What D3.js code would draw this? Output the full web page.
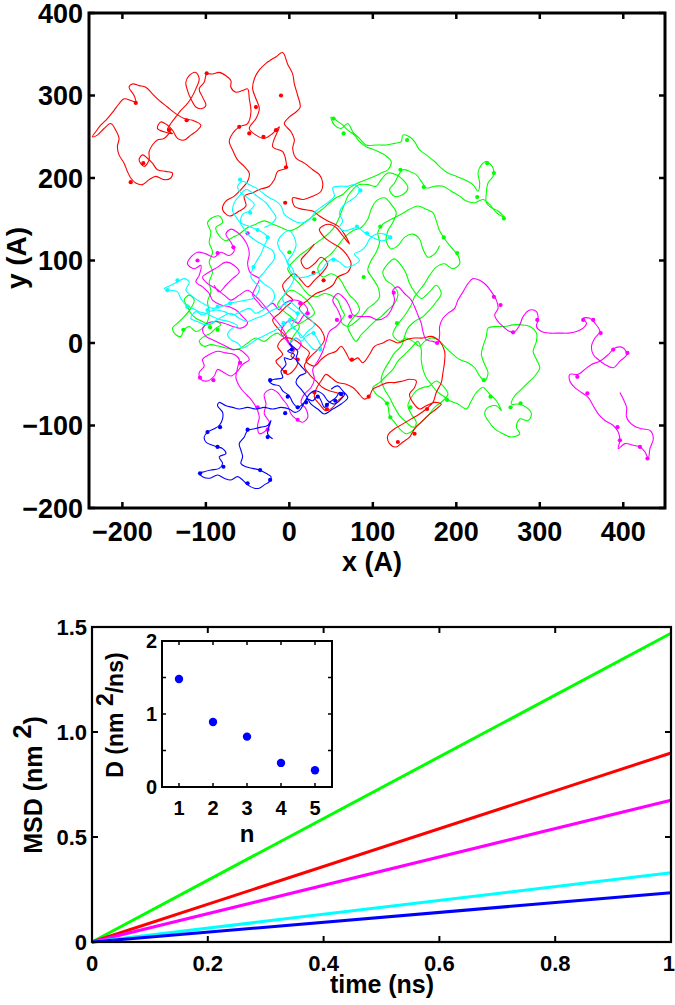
<!DOCTYPE html>
<html><head><meta charset="utf-8">
<script src="https://cdn.jsdelivr.net/npm/d3@7"></script>
<style>
body{margin:0;background:#fff}
text{font-family:"Liberation Sans",Arial,Helvetica,sans-serif;font-weight:bold;fill:#000}
</style>
</head><body>
<svg id="c" width="675" height="1005"></svg>
<script>
// ---------------- DATA ----------------
// trajectory colours (plot order)
const trackColors = ["#00ff00", "#ff0000", "#ff00ff", "#00ffff", "#0000ff"];

// x, y in Angstrom
const greenTrack = [[0,0],[6,10],[12,20],[4,30],[-6,38],[-14,46],[-8,56],[2,64],[14,58],[24,48],[30,36],[20,28],[10,22],[0,16],[-8,8],[-14,12],[-22,8],[-30,2],[-40,6],[-50,0],[-58,-6],[-66,-8],[-76,-6],[-84,-4],[-94,-2],[-102,-4],[-108,2],[-102,8],[-94,12],[-88,18],[-82,22],[-88,26],[-96,22],[-104,26],[-112,30],[-118,36],[-122,44],[-126,52],[-120,58],[-114,52],[-118,42],[-126,32],[-134,24],[-140,18],[-136,10],[-130,8],[-126,16],[-120,20],[-112,14],[-104,18],[-98,26],[-96,38],[-98,50],[-94,62],[-96,74],[-92,86],[-96,98],[-92,110],[-96,122],[-94,134],[-98,146],[-92,152],[-84,154],[-80,146],[-88,140],[-84,130],[-76,124],[-68,128],[-60,132],[-50,140],[-40,144],[-30,148],[-20,144],[-10,140],[0,136],[10,140],[18,146],[26,152],[34,158],[42,164],[48,170],[56,176],[64,180],[72,188],[82,194],[92,198],[102,202],[110,206],[118,210],[122,220],[114,228],[102,234],[92,238],[84,244],[78,252],[70,258],[64,264],[56,270],[50,274],[54,264],[62,260],[70,266],[76,256],[84,248],[92,240],[104,240],[116,240],[126,242],[134,244],[136,252],[144,250],[150,244],[156,234],[164,228],[174,220],[182,212],[190,206],[200,202],[210,198],[220,192],[226,184],[228,194],[226,206],[230,216],[236,220],[244,212],[244,202],[238,194],[236,182],[236,170],[242,164],[250,160],[258,152],[248,158],[240,168],[232,174],[222,170],[212,172],[204,178],[194,184],[184,190],[174,190],[164,188],[158,196],[152,204],[144,208],[136,210],[130,202],[126,194],[120,186],[126,178],[136,180],[142,188],[136,198],[128,204],[118,206],[110,198],[104,190],[94,192],[84,192],[76,186],[70,178],[66,168],[62,158],[58,148],[52,138],[44,130],[36,124],[28,118],[20,112],[12,106],[4,98],[-2,90],[4,80],[12,72],[18,64],[24,58],[32,56],[42,60],[50,58],[58,52],[62,42],[66,34],[62,26],[70,20],[80,26],[88,34],[94,42],[102,48],[108,56],[106,68],[100,78],[94,88],[98,100],[104,110],[108,122],[106,134],[112,144],[122,150],[134,156],[144,162],[154,166],[164,162],[172,158],[176,148],[180,136],[186,126],[194,116],[202,106],[204,96],[196,90],[186,96],[176,92],[168,82],[162,72],[156,64],[150,56],[146,46],[140,36],[134,28],[128,20],[124,10],[132,2],[140,6],[148,2],[156,-4],[162,2],[170,6],[178,4],[186,-4],[194,-12],[204,-20],[214,-24],[222,-30],[228,-40],[234,-46],[238,-36],[234,-26],[230,-14],[232,-4],[236,8],[238,18],[248,20],[258,20],[268,22],[278,22],[288,20],[296,12],[296,2],[292,-10],[296,-20],[300,-30],[294,-40],[286,-48],[278,-56],[270,-64],[266,-74],[274,-74],[284,-78],[290,-86],[286,-94],[276,-92],[272,-102],[276,-110],[266,-114],[256,-110],[246,-104],[238,-94],[234,-86],[238,-78],[248,-76],[254,-82],[248,-70],[240,-62],[232,-54],[224,-60],[218,-70],[212,-80],[202,-74],[192,-70],[184,-64],[176,-58],[170,-50],[164,-42],[160,-32],[158,-20],[158,-8],[154,2],[146,-6],[138,-14],[130,-22],[124,-32],[116,-40],[108,-48],[100,-54],[104,-62],[112,-68],[118,-76],[120,-88],[126,-96],[132,-104],[140,-110],[148,-106],[152,-96],[146,-86],[142,-76],[146,-66],[152,-58],[160,-54],[168,-52],[176,-46],[184,-52],[190,-62],[184,-70],[174,-78],[166,-88],[158,-96],[148,-102],[140,-96],[132,-88],[126,-78],[120,-66],[114,-56],[110,-44],[114,-32],[120,-22],[126,-12],[134,-4],[138,8],[142,18],[150,26],[160,32],[168,40],[176,50],[182,60],[176,70],[168,62],[158,54],[150,62],[144,72],[140,84],[134,94],[126,102],[118,96],[112,86],[116,76],[124,70],[130,60],[126,48],[118,40],[110,32],[102,26],[94,18],[86,10],[80,2],[74,10],[70,20],[76,30],[84,40],[80,50],[72,58],[66,68],[60,78],[50,84],[40,80],[34,90],[40,100],[50,108],[58,118],[66,128],[76,136],[86,140],[94,150],[98,162],[104,172],[114,176],[122,168],[128,158],[124,146],[118,136],[116,124],[122,114],[130,118],[138,128],[148,132],[156,126],[160,114],[166,104],[174,108],[180,118]];

const redTrack = [[30,120],[22,110],[14,100],[20,90],[30,96],[38,104],[46,96],[40,86],[30,76],[22,68],[14,76],[6,84],[-2,78],[-8,70],[-4,60],[4,52],[-4,44],[-12,36],[-20,28],[-14,18],[-6,10],[0,0],[6,-8],[2,-16],[10,-22],[6,-32],[-2,-38],[-10,-30],[-16,-22],[-8,-14],[-14,-4],[-6,6],[6,4],[16,-4],[24,-12],[20,-22],[30,-28],[38,-20],[46,-14],[56,-10],[62,-4],[68,-12],[74,-22],[82,-18],[88,-24],[96,-14],[102,-4],[112,0],[120,4],[130,0],[140,4],[150,6],[160,6],[170,8],[180,2],[186,-10],[186,-22],[184,-36],[182,-48],[176,-60],[172,-72],[164,-80],[156,-86],[146,-92],[136,-98],[126,-104],[118,-112],[120,-122],[128,-126],[136,-120],[144,-114],[150,-104],[158,-96],[166,-88],[176,-80],[182,-74],[174,-72],[164,-76],[156,-80],[148,-72],[144,-62],[150,-54],[152,-46],[144,-44],[136,-46],[126,-48],[118,-48],[108,-52],[100,-56],[96,-64],[90,-68],[82,-60],[76,-54],[68,-50],[58,-48],[50,-42],[44,-38],[38,-46],[32,-56],[30,-66],[36,-74],[44,-82],[52,-78],[58,-70],[64,-64],[56,-60],[48,-58],[40,-54],[32,-46],[24,-38],[18,-28],[24,-18],[34,-8],[42,4],[38,16],[30,24],[20,32],[12,42],[22,52],[32,60],[42,64],[52,70],[58,80],[70,86],[74,96],[68,108],[60,116],[50,122],[42,128],[36,138],[46,144],[56,140],[64,130],[72,120],[66,132],[58,142],[46,148],[36,154],[28,160],[16,162],[6,166],[4,176],[16,174],[28,178],[38,184],[40,194],[36,204],[28,210],[18,218],[8,224],[4,236],[6,246],[2,256],[-6,266],[0,274],[8,280],[13,286],[10,300],[6,314],[4,326],[-2,338],[-8,352],[-16,347],[-28,339],[-36,331],[-42,320],[-44,308],[-40,296],[-36,284],[-40,272],[-48,260],[-40,252],[-30,248],[-20,254],[-12,262],[-20,238],[-8,232],[-4,220],[-4,212],[-14,208],[-18,198],[-24,190],[-36,186],[-44,182],[-54,178],[-52,166],[-60,160],[-72,154],[-80,162],[-76,172],[-66,178],[-58,186],[-50,196],[-48,206],[-54,214],[-62,222],[-68,234],[-72,244],[-68,254],[-60,262],[-50,266],[-46,280],[-48,296],[-50,308],[-56,306],[-64,304],[-70,310],[-70,318],[-76,324],[-84,328],[-92,326],[-99,326],[-102,316],[-108,308],[-104,298],[-100,288],[-106,284],[-112,286],[-118,296],[-122,306],[-124,316],[-120,324],[-112,328],[-108,320],[-112,308],[-118,296],[-124,288],[-130,282],[-136,274],[-142,266],[-146,258],[-140,254],[-150,256],[-158,260],[-154,268],[-146,264],[-140,258],[-134,248],[-126,246],[-118,252],[-110,258],[-106,264],[-116,270],[-126,272],[-136,278],[-146,286],[-156,294],[-164,302],[-172,310],[-180,312],[-188,314],[-192,310],[-186,300],[-184,292],[-190,294],[-198,296],[-204,290],[-210,282],[-218,272],[-226,264],[-232,256],[-236,250],[-230,252],[-222,260],[-214,266],[-208,258],[-204,248],[-206,238],[-204,228],[-198,218],[-194,208],[-190,200],[-184,194],[-176,192],[-168,198],[-160,202],[-150,198],[-142,200],[-140,206],[-148,208],[-158,210],[-164,218],[-170,224],[-176,228],[-180,222],[-174,214],[-168,222],[-168,232],[-164,240],[-158,246],[-150,248],[-144,254]];

const magentaTrack = [[-90,70],[-84,62],[-76,70],[-68,78],[-60,86],[-66,94],[-76,98],[-86,92],[-96,86],[-104,80],[-98,72],[-88,66],[-78,58],[-70,52],[-60,58],[-50,64],[-42,58],[-34,50],[-26,40],[-18,30],[-10,20],[-4,10],[0,0],[8,6],[14,0],[10,-8],[2,-4],[-4,4],[-10,12],[-6,22],[2,28],[10,24],[16,32],[22,40],[14,50],[4,52],[-8,46],[-12,40],[-20,48],[-30,42],[-38,50],[-44,58],[-40,68],[-36,78],[-46,84],[-50,96],[-48,108],[-50,118],[-56,128],[-62,134],[-70,138],[-76,132],[-70,122],[-66,112],[-72,106],[-82,110],[-90,104],[-100,108],[-110,110],[-118,104],[-122,96],[-114,90],[-106,94],[-108,82],[-112,74],[-104,68],[-96,60],[-92,52],[-82,46],[-72,44],[-64,40],[-56,32],[-50,24],[-58,18],[-68,20],[-78,24],[-88,26],[-98,24],[-104,16],[-100,8],[-92,4],[-84,0],[-76,-4],[-68,-8],[-60,-8],[-52,-14],[-48,-20],[-56,-26],[-62,-34],[-70,-40],[-78,-36],[-86,-32],[-90,-40],[-98,-46],[-106,-44],[-108,-36],[-102,-28],[-104,-20],[-96,-14],[-86,-10],[-76,-12],[-66,-14],[-60,-20],[-62,-30],[-64,-42],[-60,-52],[-54,-60],[-48,-66],[-42,-74],[-38,-82],[-36,-90],[-38,-100],[-36,-110],[-28,-106],[-24,-96],[-30,-86],[-28,-74],[-30,-62],[-22,-56],[-14,-60],[-8,-68],[-2,-76],[2,-86],[8,-92],[16,-96],[22,-90],[20,-80],[14,-72],[18,-62],[26,-54],[30,-44],[28,-32],[34,-22],[40,-10],[44,2],[48,14],[56,20],[62,28],[58,40],[52,52],[58,60],[66,54],[72,44],[76,34],[86,32],[96,32],[106,28],[116,32],[122,40],[126,52],[124,64],[130,68],[138,60],[146,52],[150,44],[154,34],[158,24],[160,14],[164,4],[172,2],[178,0],[180,10],[180,20],[184,30],[190,36],[198,42],[202,52],[208,62],[214,72],[220,78],[228,76],[236,70],[242,62],[248,52],[250,42],[246,34],[250,26],[256,20],[264,14],[270,14],[276,22],[280,32],[288,40],[296,38],[298,28],[296,20],[302,14],[312,12],[324,12],[334,12],[344,14],[352,18],[356,24],[352,30],[360,30],[366,24],[372,14],[366,6],[362,-4],[364,-14],[370,-20],[378,-26],[388,-30],[396,-22],[404,-14],[400,-6],[390,-6],[382,-14],[372,-22],[362,-26],[354,-32],[346,-38],[336,-38],[336,-46],[342,-54],[350,-60],[358,-66],[364,-76],[370,-86],[378,-94],[388,-100],[394,-108],[396,-118],[394,-128],[402,-122],[412,-124],[420,-126],[426,-132],[430,-140],[432,-128],[436,-116],[432,-106],[422,-104],[412,-100],[404,-90],[404,-78],[400,-68],[396,-60]];

const cyanTrack = [[0,0],[8,6],[14,2],[20,8],[28,12],[34,4],[38,-6],[30,-8],[22,0],[14,10],[6,18],[-2,26],[-8,22],[-16,16],[-24,12],[-32,8],[-40,4],[-48,-2],[-56,-6],[-62,0],[-70,4],[-74,10],[-68,18],[-62,20],[-72,26],[-82,28],[-92,32],[-100,36],[-108,38],[-116,42],[-124,46],[-130,54],[-134,62],[-142,64],[-150,66],[-142,70],[-134,74],[-126,78],[-120,74],[-124,64],[-118,58],[-110,52],[-100,46],[-92,42],[-82,44],[-72,48],[-62,50],[-52,52],[-44,54],[-38,60],[-36,68],[-42,74],[-46,80],[-44,90],[-40,98],[-34,108],[-30,118],[-26,128],[-32,134],[-40,138],[-50,142],[-58,146],[-56,156],[-48,160],[-42,168],[-50,176],[-58,182],[-62,190],[-56,196],[-48,192],[-40,188],[-32,182],[-24,176],[-16,172],[-10,166],[-6,156],[2,150],[10,146],[18,146],[26,152],[32,160],[40,166],[48,172],[54,178],[52,188],[60,190],[70,190],[78,192],[84,186],[80,178],[72,172],[64,166],[60,156],[64,148],[60,140],[66,136],[74,138],[82,140],[90,134],[96,130],[104,126],[112,124],[120,128],[114,132],[104,132],[96,126],[92,118],[86,112],[78,108],[84,100],[76,94],[68,92],[60,98],[52,102],[44,96],[38,88],[30,84],[20,80],[10,80],[2,86],[-2,96],[-6,106],[-12,114],[-14,122],[-8,132],[0,136],[6,128],[8,118],[4,108],[-2,98],[4,90],[6,80],[2,70],[-4,62],[-8,54],[-4,46],[4,40],[10,34],[6,26],[2,20],[10,14],[14,6],[22,14],[30,22],[24,30],[16,36],[8,44],[0,50],[-10,44],[-20,40],[-30,34],[-40,30],[-50,26],[-60,30],[-70,36],[-80,32],[-90,26],[-100,22],[-110,26],[-118,30],[-112,38],[-104,34],[-96,38],[-88,40],[-78,38],[-68,34],[-58,38],[-48,42],[-40,36],[-32,40],[-24,46],[-18,54],[-20,64],[-28,70],[-36,78],[-30,86],[-24,94],[-18,102],[-20,112],[-30,118],[-40,124],[-48,130],[-54,138],[-62,150],[-68,160],[-66,170],[-60,178],[-52,186],[-44,182],[-36,176],[-28,170],[-22,162],[-16,152],[-22,144],[-30,140]];

const blueTrack = [[50,-56],[58,-52],[64,-58],[70,-66],[62,-74],[52,-80],[42,-86],[34,-80],[26,-74],[20,-64],[14,-56],[8,-48],[12,-40],[20,-36],[14,-28],[8,-20],[10,-10],[4,-4],[0,0],[3,-6],[-2,-10],[6,-14],[2,-20],[-6,-18],[-4,-26],[-10,-34],[-8,-42],[-18,-44],[-24,-46],[-20,-50],[-12,-52],[-8,-58],[0,-64],[4,-72],[10,-78],[16,-74],[22,-68],[28,-70],[34,-64],[38,-70],[42,-78],[48,-72],[56,-66],[60,-60],[66,-62],[62,-68],[54,-74],[46,-70],[40,-62],[30,-58],[24,-62],[18,-72],[12,-82],[6,-84],[0,-80],[-10,-78],[-20,-80],[-30,-78],[-40,-80],[-50,-78],[-60,-80],[-68,-78],[-76,-76],[-84,-72],[-86,-76],[-80,-84],[-80,-92],[-84,-100],[-90,-104],[-98,-108],[-102,-114],[-100,-120],[-92,-124],[-86,-126],[-80,-128],[-76,-134],[-84,-138],[-80,-146],[-84,-152],[-94,-154],[-102,-156],[-108,-158],[-104,-162],[-96,-164],[-86,-160],[-78,-164],[-70,-166],[-62,-162],[-56,-166],[-50,-172],[-42,-176],[-36,-176],[-30,-172],[-24,-168],[-22,-162],[-28,-158],[-36,-154],[-44,-152],[-52,-150],[-58,-146],[-56,-138],[-58,-130],[-60,-122],[-54,-114],[-50,-106],[-42,-104],[-34,-102],[-26,-100],[-22,-94],[-26,-110],[-20,-116]];

// dense knots along each trajectory
const greenKnots = [[53,272],[65,254],[141,246],[133,210],[161,189],[225,177],[245,206],[237,218],[257,151],[-86,16],[-95,19],[-127,16],[-122,44],[89,80],[129,24],[233,-45],[277,-73],[265,-78],[241,-65],[145,-78],[117,-73],[121,-90],[189,-69],[109,141],[185,128],[201,109],[0,110],[30,150]];
const redKnots = [[-184,291],[-144,258],[-175,218],[-190,195],[-123,270],[-99,327],[-40,286],[-31,250],[-48,254],[-10,300],[-4,213],[-16,258],[-60,262],[-5,170],[41,76],[29,85],[45,-80],[30,-60],[150,-110],[130,-120],[165,-80],[75,-20],[95,-65],[-5,-35],[10,-20]];
const magentaKnots = [[-110,100],[-86,109],[-67,116],[-50,133],[-107,-42],[-91,-45],[-59,-24],[-26,-105],[-38,-78],[10,-93],[22,36],[13,48],[57,28],[73,32],[125,61],[177,0],[268,13],[297,28],[352,28],[364,28],[373,12],[345,-41],[357,-61],[393,-102],[429,-140],[420,-126],[396,-118],[405,-12],[388,-8],[253,46],[245,56]];
const cyanKnots = [[-146,64],[-134,76],[-122,44],[-98,40],[-47,158],[-26,128],[-59,198],[-38,137],[1,28],[10,36],[-7,24],[29,12],[37,-8],[93,133],[121,128],[81,141],[53,101],[85,185],[-86,44],[-71,48],[-43,92]];
const blueKnots = [[3,-8],[-23,-45],[10,-78],[34,-65],[55,-70],[62,-62],[-2,-65],[-83,-102],[-98,-108],[-107,-158],[-86,-126],[-79,-150],[-50,-170],[-35,-154],[-26,-114],[-50,-105],[-23,-166],[-5,-85],[20,-72],[45,-75]];

// top axes ticks
const topXTicks = [-200, -100, 0, 100, 200, 300, 400];
const topYTicks = [-200, -100, 0, 100, 200, 300, 400];

// MSD panel
const msdTime = [0, 1];
const msdColors = ["#00ff00", "#ff0000", "#ff00ff", "#00ffff", "#0000ff"];
const msdEnd = [1.47, 0.90, 0.675, 0.33, 0.235];
const msdXTicks = [0, 0.2, 0.4, 0.6, 0.8, 1];
const msdXLabels = ["0", "0.2", "0.4", "0.6", "0.8", "1"];
const msdYTicks = [0, 0.5, 1.0, 1.5];
const msdYLabels = ["0", "0.5", "1.0", "1.5"];

// inset D vs n
const insetN = [1, 2, 3, 4, 5];
const insetD = [1.48, 0.89, 0.69, 0.33, 0.23];
const insetYTicks = [0, 0.5, 1, 1.5, 2];
const insetYLabels = [0, 1, 2];

// ---------------- DRAW ----------------
const svg = d3.select("#c");
svg.append("rect").attr("width", 675).attr("height", 1005).attr("fill", "#fff");

function frameAxes(g, x, y, xt, yt, opts) {
  const [x0, x1] = x.range(), [y0, y1] = y.range();
  const tl = opts.tick;
  const ax = g.append("g").attr("stroke", "#000").attr("stroke-width", opts.tw);
  xt.forEach(v => {
    ax.append("line").attr("x1", x(v)).attr("x2", x(v)).attr("y1", y0).attr("y2", y0 - tl);
    ax.append("line").attr("x1", x(v)).attr("x2", x(v)).attr("y1", y1).attr("y2", y1 + tl);
  });
  yt.forEach(v => {
    ax.append("line").attr("x1", x0).attr("x2", x0 + tl).attr("y1", y(v)).attr("y2", y(v));
    ax.append("line").attr("x1", x1).attr("x2", x1 - tl).attr("y1", y(v)).attr("y2", y(v));
  });
  g.append("rect").attr("x", x0).attr("y", y1).attr("width", x1 - x0).attr("height", y0 - y1)
    .attr("fill", "none").attr("stroke", "#000").attr("stroke-width", opts.sw);
}

// ---- top panel ----
const xT = d3.scaleLinear().domain([-240, 450]).range([89, 665]);
const yT = d3.scaleLinear().domain([-200, 400]).range([508, 13]);
const topG = svg.append("g");
svg.append("clipPath").attr("id", "clipTop").append("rect")
  .attr("x", 89).attr("y", 13).attr("width", 576).attr("height", 495);

const tracks = [greenTrack, redTrack, magentaTrack, cyanTrack, blueTrack];
const knots = [greenKnots, redKnots, magentaKnots, cyanKnots, blueKnots];
const trackLine = d3.line().x(d => xT(d[0])).y(d => yT(d[1])).curve(d3.curveCatmullRom.alpha(0.5));
const plotG = topG.append("g").attr("clip-path", "url(#clipTop)");
tracks.forEach((t, i) => {
  plotG.append("path").attr("d", trackLine(t)).attr("fill", "none")
    .attr("stroke", trackColors[i]).attr("stroke-width", 1.1).attr("stroke-linejoin", "round");
  plotG.append("g").selectAll(null).data(knots[i]).enter().append("circle")
    .attr("cx", d => xT(d[0])).attr("cy", d => yT(d[1])).attr("r", 2.1)
    .attr("fill", trackColors[i]);
});

frameAxes(topG, xT, yT, topXTicks, topYTicks, {tick: 6, tw: 2.5, sw: 3});
const fmtMinus = v => (v < 0 ? "\u2212" + Math.abs(v) : String(v));
topG.selectAll(null).data(topXTicks).enter().append("text")
  .attr("x", d => xT(d)).attr("y", 541).attr("text-anchor", "middle")
  .attr("font-size", 27).text(fmtMinus);
topG.selectAll(null).data(topYTicks).enter().append("text")
  .attr("x", 83).attr("y", d => yT(d) + 9.5).attr("text-anchor", "end")
  .attr("font-size", 27).text(fmtMinus);
topG.append("text").attr("x", 372).attr("y", 571).attr("text-anchor", "middle")
  .attr("font-size", 27).text("x (A)");
topG.append("text").attr("transform", "translate(26,258) rotate(-90)").attr("text-anchor", "middle")
  .attr("font-size", 28).text("y (A)");

// ---- bottom panel ----
const xB = d3.scaleLinear().domain([0, 1]).range([92, 671]);
const yB = d3.scaleLinear().domain([0, 1.5]).range([942, 627]);
const bot = svg.append("g");
const mline = d3.line().x(d => xB(d[0])).y(d => yB(d[1]));
msdEnd.forEach((v, i) => {
  const pts = msdTime.map(t => [t, t * v]);
  bot.append("path").attr("d", mline(pts)).attr("fill", "none")
    .attr("stroke", msdColors[i]).attr("stroke-width", 3);
});
frameAxes(bot, xB, yB, msdXTicks, msdYTicks, {tick: 6, tw: 2, sw: 2.2});
bot.selectAll(null).data(msdXTicks).enter().append("text")
  .attr("x", (d, i) => i === msdXTicks.length - 1 ? 675 : xB(d)).attr("y", 971)
  .attr("text-anchor", (d, i) => i === msdXTicks.length - 1 ? "end" : "middle")
  .attr("font-size", 22).text((d, i) => msdXLabels[i]);
bot.selectAll(null).data(msdYTicks).enter().append("text")
  .attr("x", 87).attr("y", d => yB(d) + 8).attr("text-anchor", "end")
  .attr("font-size", 22).text((d, i) => msdYLabels[i]);
bot.append("text").attr("x", 382).attr("y", 993).attr("text-anchor", "middle")
  .attr("font-size", 25).text("time (ns)");
const ml = bot.append("text").attr("transform", "translate(42,785) rotate(-90)")
  .attr("text-anchor", "middle").attr("font-size", 25);
ml.append("tspan").text("MSD (nm ");
ml.append("tspan").attr("dy", "-0.45em").text("2");
ml.append("tspan").attr("dy", "0.45em").text(")");

// ---- inset ----
const xI = d3.scaleLinear().domain([0.5, 5.5]).range([162, 332]);
const yI = d3.scaleLinear().domain([0, 2]).range([787, 641]);
const ins = svg.append("g");
ins.append("rect").attr("x", 162).attr("y", 641).attr("width", 170).attr("height", 146).attr("fill", "#fff");
frameAxes(ins, xI, yI, insetN, insetYTicks, {tick: 4, tw: 1.5, sw: 2});
ins.selectAll(null).data(insetN).enter().append("circle")
  .attr("cx", d => xI(d)).attr("cy", (d, i) => yI(insetD[i])).attr("r", 4.2).attr("fill", "#0000ff");
ins.selectAll(null).data(insetN).enter().append("text")
  .attr("x", d => xI(d)).attr("y", 815).attr("text-anchor", "middle")
  .attr("font-size", 20).text(d => d);
ins.selectAll(null).data(insetYLabels).enter().append("text")
  .attr("x", 157).attr("y", d => yI(d) + 7).attr("text-anchor", "end")
  .attr("font-size", 20).text(d => d);
ins.append("text").attr("x", 247).attr("y", 842).attr("text-anchor", "middle")
  .attr("font-size", 24).text("n");
const dl = ins.append("text").attr("transform", "translate(123,715) rotate(-90)")
  .attr("text-anchor", "middle").attr("font-size", 23);
dl.append("tspan").text("D (nm ");
dl.append("tspan").attr("dy", "-0.45em").text("2");
dl.append("tspan").attr("dy", "0.45em").text("/ns)");
</script>
</body></html>
